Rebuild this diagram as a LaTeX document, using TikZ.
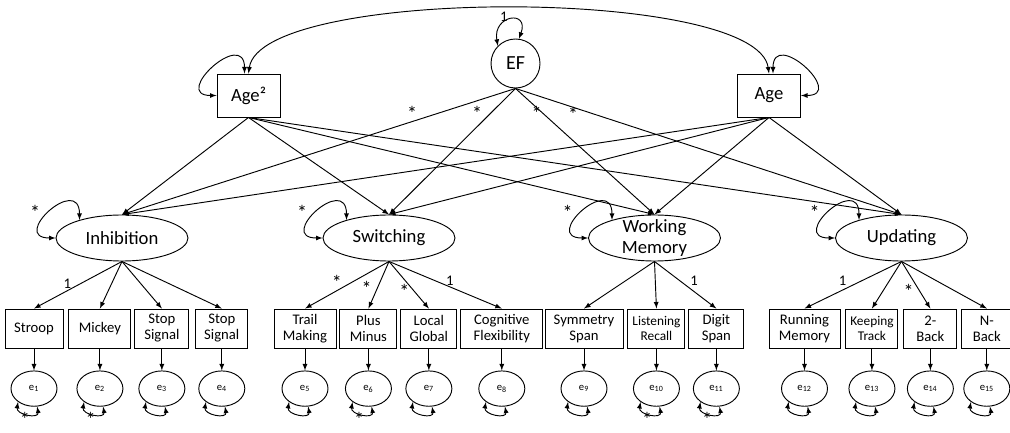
\documentclass[tikz,border=0pt]{standalone}
\usepackage{fontspec}
\setmainfont{Carlito}
\usetikzlibrary{positioning, arrows.meta, shapes.geometric}

\begin{document}
\begin{tikzpicture}[
    x=0.75pt, y=0.75pt,
    % Estilos de los nodos
    observed/.style={
        rectangle,
        draw=black,
        line width=0.7pt,
        minimum width=47.25pt,
        minimum height=32.25pt,
        font=\fontsize{14}{16}\selectfont
    },
    latent/.style={
        ellipse,
        draw=black,
        line width=0.7pt,
        minimum width=99pt,
        minimum height=34.5pt,
        inner sep=0pt,
        align=center,
        font=\fontsize{14}{16}\selectfont
    },
    indicator/.style={
        rectangle,
        draw=black,
        line width=0.7pt,
        minimum height=29.25pt,
        inner xsep=1.5pt,
        inner ysep=0pt,
        align=center,
        font=\fontsize{11}{12}\selectfont
    },
    errvar/.style={
        ellipse,
        draw=black,
        line width=0.7pt,
        minimum width=34.5pt,
        minimum height=26.5pt,
        inner sep=0pt,
        font=\fontsize{8}{9}\selectfont
    },
    est/.style={font=\fontsize{11}{11}\selectfont, inner sep=1pt},
    free/.style={font=\fontsize{15}{15}\selectfont, inner sep=0.5pt,
                 text height=0.72em, text depth=-0.3em},
    % Estilos de las flechas
    arrow/.style={->, >=latex, line width=0.7pt},
    variance/.style={<->, >=latex, line width=0.7pt}
]
\useasboundingbox (0,0) rectangle (1010,432);

% -- Top row --
\node[observed] (age2) at (248.5,336.5) {Age²};
\node[circle, draw=black, line width=0.7pt, minimum size=36.75pt, inner sep=0pt,
      font=\fontsize{15}{16}\selectfont] (ef) at (515.5,368.5) {EF};
\node[observed] (age) at (769,336.5) {Age};

% -- Factors --
\node[latent] (inh) at (122,194) {Inhibition};
\node[latent] (swi) at (389,194) {Switching};
\node[latent, inner ysep=-2.7pt, font=\fontsize{14}{15.75}\selectfont] (wm) at (654.5,194) {Working\\Memory};
\node[latent] (upd) at (901.5,194) {Updating};

% -- Indicators --
\node[indicator, minimum width=43.5pt] (stroop) at (34,103.5) {Stroop};
\node[indicator, minimum width=46.5pt, right=3.75pt of stroop] (mickey) {Mickey};
\node[indicator, minimum width=40.5pt, right=2.25pt of mickey] (stopa) {Stop\\Signal};
\node[indicator, minimum width=39pt, right=4.5pt of stopa] (stopb) {Stop\\Signal};

\node[indicator, minimum width=46.5pt] (trail) at (305,103.5) {Trail\\Making};
\node[indicator, minimum width=42.75pt, right=2.25pt of trail] (plus) {Plus\\Minus};
\node[indicator, minimum width=42pt, right=2.25pt of plus] (local) {Local\\Global};
\node[indicator, minimum width=61.5pt, right=2.25pt of local] (cogflex) {Cognitive\\Flexibility};

\node[indicator, minimum width=58.5pt] (symspan) at (584,103.5) {Symmetry\\Span};
\node[indicator, minimum width=42.75pt, right=3pt of symspan, font=\fontsize{10}{11.5}\selectfont] (listen) {Listening\\Recall};
\node[indicator, minimum width=41.25pt, right=2.25pt of listen] (digit) {Digit\\Span};

\node[indicator, minimum width=53.25pt] (running) at (804.5,103.5) {Running\\Memory};
\node[indicator, minimum width=39pt, right=3.75pt of running, font=\fontsize{10}{11.5}\selectfont] (keeping) {Keeping\\Track};
\node[indicator, minimum width=39.75pt, right=3.75pt of keeping] (twoback) {2-\\Back};
\node[indicator, minimum width=37.5pt, right=3pt of twoback] (nback) {N-\\Back};

% -- Errors --
\foreach \ind [count=\i] in {stroop, mickey, stopa, stopb, trail, plus, local, cogflex,
                            symspan, listen, digit, running, keeping, twoback, nback} {
    \node[errvar, below=16.5pt of \ind] (e\i) {e\textsubscript{\i}};
    \draw[arrow] (\ind) -- (e\i);
    \draw[variance] (e\i.220) to[out=260, in=280, looseness=1.7] (e\i.280);
}
\foreach \i in {1, 2, 6, 10, 11}
    \node[free, below left=7pt and 2.5pt of e\i.south] {*};

% -- Variances --
\draw[variance] (age2.north) .. controls +(12,87) and +(-12,87) .. (age.north);
\draw[variance] (age2.west) to[out=180, in=90, looseness=3.3] ([xshift=-3pt]age2.north);
\draw[variance] ([xshift=3pt]age.north) to[out=90, in=0, looseness=3.3] (age.east);
\draw[variance] (ef.135) to[out=100, in=70, looseness=3.6] node[est, pos=0.35, above=0pt]{1} (ef.82);
\foreach \fac in {inh, swi, wm, upd}
    \draw[variance] (\fac.west) to[out=180, in=90, looseness=4] node[free, pos=0.45, left=4pt]{*} (\fac.157);

% -- Structural paths --
\foreach \src in {age2, age}
    \foreach \fac in {inh, swi, wm, upd}
        \draw[arrow] (\src.south) -- (\fac.north);
\draw[arrow] (ef.south) -- node[free, pos=0.263, above]{*} (inh.north);
\draw[arrow] (ef.south) -- node[free, pos=0.213, left=4pt]{*} (swi.north);
\draw[arrow] (ef.south) -- node[free, pos=0.22, left=2.5pt]{*} (wm.north);
\draw[arrow] (ef.south) -- node[free, pos=0.149, below=2.5pt]{*} (upd.north);

% -- Loadings --
\draw[arrow] (inh.south) -- node[est, pos=0.62, above]{1} (stroop.north);
\foreach \ind in {mickey, stopa, stopb}
    \draw[arrow] (inh.south) -- (\ind.north);

\draw[arrow] (swi.south) -- node[free, pos=0.62, above]{*} (trail.north);
\draw[arrow] (swi.south) -- node[free, pos=0.625, left=2.5pt]{*} (plus.north);
\draw[arrow] (swi.south) -- node[free, pos=0.69, left=4.5pt]{*} (local.north);
\draw[arrow] (swi.south) -- node[est, pos=0.54, above]{1} (cogflex.north);

\foreach \ind in {symspan, listen}
    \draw[arrow] (wm.south) -- (\ind.north);
\draw[arrow] (wm.south) -- node[est, pos=0.55, above right]{1} (digit.north);

\draw[arrow] (upd.south) -- node[est, pos=0.55, above left]{1} (running.north);
\draw[arrow] (upd.south) -- (keeping.north);
\draw[arrow] (upd.south) -- node[free, pos=0.69, left=5pt]{*} (twoback.north);
\draw[arrow] (upd.south) -- (nback.north);

\end{tikzpicture}
\end{document}
